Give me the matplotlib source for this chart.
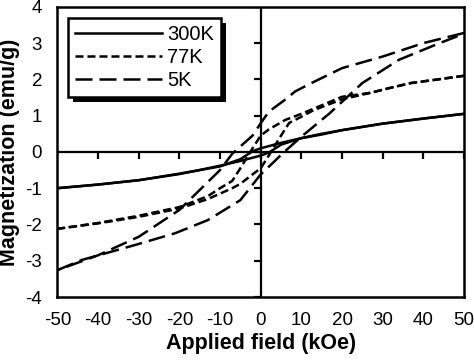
import matplotlib
matplotlib.use("Agg")
import matplotlib.pyplot as plt
from matplotlib.patches import Rectangle

plt.rcParams['font.family'] = ['Liberation Sans', 'DejaVu Sans']

# ---- data ----
# 300 K: field sweep down (upper branch) and up (lower branch)
h300_down = [50, 40, 30, 20, 15, 10, 5, 2, 0, -2, -5, -10, -15, -20, -30, -40, -50]
m300_down = [1.05, 0.92, 0.78, 0.60, 0.50, 0.38, 0.25, 0.16, 0.10, 0.02, -0.20, -0.40, -0.50, -0.61, -0.78, -0.90, -1.00]
h300_up = [-50, -40, -30, -20, -15, -10, -5, -2, 0, 2, 5, 10, 15, 20, 30, 40, 50]
m300_up = [-1.00, -0.90, -0.78, -0.60, -0.50, -0.38, -0.25, -0.16, -0.10, -0.02, 0.20, 0.38, 0.48, 0.60, 0.78, 0.92, 1.05]

# 77 K
h77_down = [50, 43, 37, 32, 27, 20, 17, 10, 6, 2, 0, -2, -5, -7, -10, -13, -20, -30, -40, -50]
m77_down = [2.10, 1.99, 1.90, 1.77, 1.63, 1.52, 1.38, 1.05, 0.88, 0.62, 0.45, 0.10, -0.45, -0.80, -1.00, -1.22, -1.52, -1.76, -1.96, -2.12]
h77_up = [-50, -40, -30, -20, -13, -7, -5, -2, 0, 2, 5, 7, 10, 13, 20, 27, 32, 37, 43, 50]
m77_up = [-2.12, -1.97, -1.79, -1.56, -1.30, -1.00, -0.88, -0.62, -0.45, -0.10, 0.45, 0.80, 0.97, 1.15, 1.45, 1.63, 1.77, 1.90, 1.99, 2.10]

# 5 K
h5_down = [50, 40, 30, 20, 12.5, 8.5, 6, 2, 0, -2, -5, -7, -10, -15, -20, -30, -40, -50]
m5_down = [3.28, 3.00, 2.63, 2.31, 1.90, 1.67, 1.44, 1.11, 0.79, 0.45, 0.15, -0.05, -0.50, -1.05, -1.60, -2.34, -2.85, -3.26]
h5_up = [-50, -44, -31, -21, -13, -5, 0, 3, 5.5, 10, 17, 25, 34, 44, 50]
m5_up = [-3.26, -2.98, -2.57, -2.24, -1.88, -1.33, -0.62, -0.30, -0.03, 0.42, 1.07, 1.90, 2.54, 3.00, 3.26]

xticks = [-50, -40, -30, -20, -10, 0, 10, 20, 30, 40, 50]
yticks = [-4, -3, -2, -1, 0, 1, 2, 3, 4]
labels = ["300K", "77K", "5K"]

# ---- figure ----
fig = plt.figure(figsize=(4.74, 3.6), dpi=100)
ax = fig.add_axes([0.121, 0.175, 0.858, 0.806])

lw = 1.8
d77 = (3.2, 1.6)
d5 = (6.8, 2.8)
ax.plot(h300_down, m300_down, color='k', lw=lw, label=labels[0])
ax.plot(h300_up, m300_up, color='k', lw=lw)
ax.plot(h77_down, m77_down, color='k', lw=lw, dashes=d77, label=labels[1])
ax.plot(h77_up, m77_up, color='k', lw=lw, dashes=d77)
ax.plot(h5_down, m5_down, color='k', lw=lw, dashes=d5, label=labels[2])
ax.plot(h5_up, m5_up, color='k', lw=lw, dashes=d5)

# zero lines with tick marks
ax.axhline(0, color='k', lw=1.6, zorder=1)
ax.axvline(0, color='k', lw=1.6, zorder=1)
ax.plot(xticks, [0] * len(xticks), ls='none', marker=3, markersize=5,
        markeredgewidth=1.6, color='k', zorder=1)
ax.plot([0] * len(yticks), yticks, ls='none', marker=0, markersize=5,
        markeredgewidth=1.6, color='k', zorder=1)

ax.set_xlim(-50, 50)
ax.set_ylim(-4, 4)
ax.set_xticks(xticks)
ax.set_yticks(yticks)
ax.set_xticklabels([str(v) for v in xticks])
ax.set_yticklabels([str(v) for v in yticks])
ax.tick_params(length=0, labelsize=13.5)
ax.tick_params(axis='x', pad=11)
ax.tick_params(axis='y', pad=11)
for s in ax.spines.values():
    s.set_linewidth(1.8)

ax.set_xlabel("Applied field (kOe)", fontsize=15.5, fontweight='bold', labelpad=3)
ax.set_ylabel("Magnetization (emu/g)", fontsize=15.5, fontweight='bold', labelpad=4)

leg = ax.legend(loc='upper left', bbox_to_anchor=(0.027, 0.962), fontsize=14.5,
                frameon=True, fancybox=False, handlelength=4.3, handletextpad=0.25,
                labelspacing=0.2, borderpad=0.35, borderaxespad=0.0)
leg.get_frame().set_edgecolor('k')
leg.get_frame().set_linewidth(1.8)
leg.get_frame().set_alpha(1)

fig.canvas.draw()
bb = leg.get_window_extent()
off = 5
shadow = Rectangle((bb.x0 + off, bb.y0 - off), bb.width, bb.height,
                   transform=None, facecolor='k', edgecolor='none',
                   zorder=4.9, clip_on=False)
ax.add_artist(shadow)

fig.savefig("out.png", dpi=100)
